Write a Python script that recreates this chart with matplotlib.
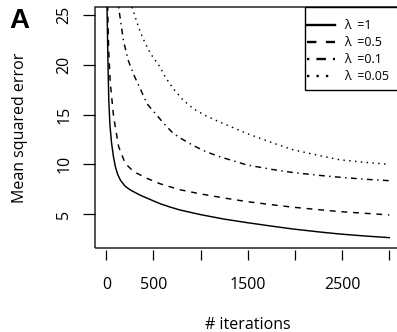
import matplotlib
matplotlib.use("Agg")
import matplotlib.pyplot as plt
from matplotlib.patches import Rectangle

# values
ITER_L1 = [7, 18, 26, 38, 55, 75, 95, 120, 150, 200, 254, 360, 470, 570,
           680, 780, 1000, 1250, 1490, 1750, 1985, 2250, 2480, 2750, 3000]
MSE_L1 = [26.0, 20.0, 16.5, 14.0, 12.2, 10.8, 9.8, 9.0, 8.4, 7.8, 7.43, 6.9,
          6.45, 6.05, 5.7, 5.42, 4.95, 4.5, 4.15, 3.8, 3.5, 3.22, 3.0, 2.8, 2.64]

ITER_L05 = [14, 25, 42, 77, 130, 200, 290, 430, 570, 780, 1000, 1250, 1490,
            1750, 1985, 2250, 2480, 2750, 3000]
MSE_L05 = [26.0, 21.5, 18.2, 14.8, 11.8, 10.1, 9.27, 8.6, 8.05, 7.45, 7.03,
           6.62, 6.26, 5.95, 5.69, 5.45, 5.25, 5.08, 4.92]

ITER_L01 = [130, 180, 230, 300, 360, 430, 520, 610, 710, 810, 920, 1050,
            1190, 1490, 1750, 1985, 2250, 2480, 2750, 3000]
MSE_L01 = [25.8, 22.5, 20.5, 18.8, 17.6, 16.1, 15.1, 14.1, 13.1, 12.5, 11.9,
           11.3, 10.8, 9.94, 9.5, 9.17, 8.9, 8.7, 8.5, 8.36]

ITER_L005 = [272, 320, 360, 410, 470, 560, 630, 710, 810, 920, 1050, 1190,
             1340, 1490, 1750, 1985, 2250, 2480, 2750, 3000]
MSE_L005 = [25.8, 24.4, 23.3, 22.2, 21.1, 19.9, 18.7, 17.6, 16.5, 15.6,
            14.9, 14.3, 13.7, 13.1, 12.2, 11.45, 10.9, 10.45, 10.2, 10.0]

SERIES_LABELS = ["λ  =1", "λ  =0.5", "λ  =0.1", "λ  =0.05"]
X_TICKS = [0, 500, 1000, 1500, 2000, 2500, 3000]
X_TICK_LABELS = ["0", "500", "", "1500", "", "2500", ""]
Y_TICKS = [5, 10, 15, 20, 25]

plt.rcParams["font.family"] = ["Open Sans", "DejaVu Sans"]

W, H = 397, 332
fig = plt.figure(figsize=(W / 100, H / 100), dpi=100)
ax = fig.add_axes([95 / W, 1 - 248 / H, 305.6 / W, 241 / H])

styles = [
    dict(linestyle="-"),
    dict(linestyle=(0, (4, 4))),
    dict(linestyle=(0, (1, 3, 4, 3))),
    dict(linestyle=(0, (1, 3))),
]
data = [(ITER_L1, MSE_L1), (ITER_L05, MSE_L05),
        (ITER_L01, MSE_L01), (ITER_L005, MSE_L005)]
for (xs, ys), st, lab in zip(data, styles, SERIES_LABELS):
    ax.plot(xs, ys, color="black", lw=1.05, label=lab,
            solid_joinstyle="round", dash_joinstyle="round", **st)

ax.set_xlim(-120, 3120)
ax.set_ylim(1.6, 25.8)

for s in ax.spines.values():
    s.set_visible(False)
ax.spines["bottom"].set_position(("outward", 1.5))
ax.add_patch(Rectangle((0, 0), 1, 1, transform=ax.transAxes, fill=False,
                       lw=1.1, edgecolor="#222222", clip_on=False))

ax.set_xticks(X_TICKS)
ax.set_xticklabels(X_TICK_LABELS)
ax.set_yticks(Y_TICKS)
ax.set_yticklabels([str(v) for v in Y_TICKS], rotation=90, va="center")
ax.tick_params(axis="x", length=7.5, width=0.9, pad=12, labelsize=11.5)
ax.tick_params(axis="y", length=8.5, width=0.9, pad=8, labelsize=11.5)

ax.set_xlabel("# iterations", fontsize=11.5, labelpad=17)
ax.set_ylabel("Mean squared error", fontsize=11.5, labelpad=20)

# legend box drawn separately (R style: extra padding above/below)
fig.add_artist(Rectangle((305 / W, 1 - 90 / H), 100 / W, 83 / H,
                         transform=fig.transFigure, fill=True,
                         facecolor="white", edgecolor="black", lw=1.0))
leg = fig.legend(loc="upper left", bbox_to_anchor=(307 / W, 1 - 19 / H),
                 frameon=False, fontsize=9,
                 handlelength=2.2, handletextpad=0.8, borderpad=0,
                 labelspacing=0.32, borderaxespad=0)
for ln in leg.get_lines():
    ln.set_linewidth(1.7)

fig.text(9 / W, 1 - 28 / H, "A", fontsize=20, fontweight="bold",
         family="Liberation Sans", ha="left", va="baseline")

fig.savefig("out.png", dpi=100)
